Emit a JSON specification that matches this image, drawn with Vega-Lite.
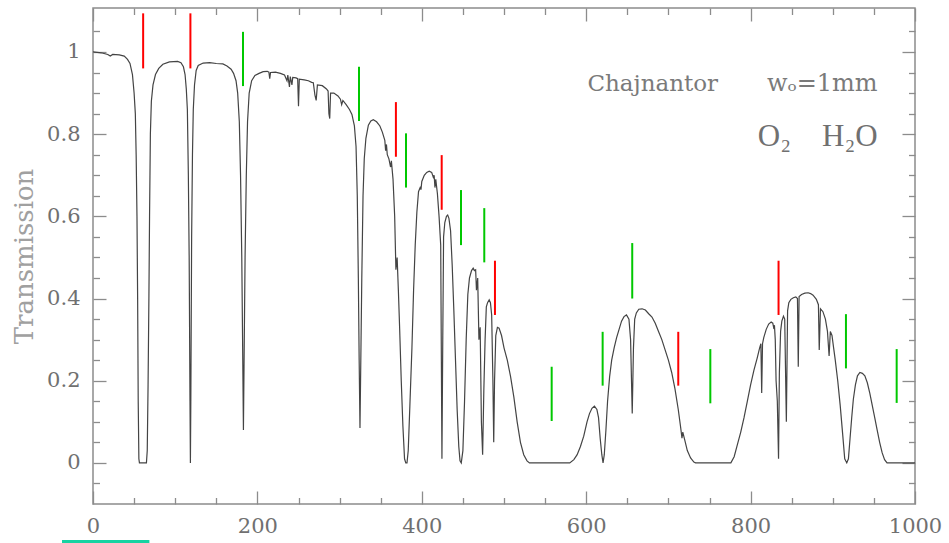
{
  "$schema": "https://vega.github.io/schema/vega-lite/v6.json",
  "width": 822,
  "height": 496,
  "autosize": "none",
  "padding": {"left": 93, "top": 8, "right": 34, "bottom": 39},
  "background": "white",
  "config": {
    "view": {"stroke": "#8c8c8c", "strokeWidth": 1.5},
    "axis": {
      "grid": false,
      "domain": false,
      "tickColor": "#8c8c8c",
      "tickWidth": 1.3,
      "labelFont": "DejaVu Serif",
      "labelColor": "#707070",
      "labelOverlap": false,
      "labelFlush": false
    }
  },
  "datasets": {
    "spectrum": [
      {"freq": 0, "transmission": 1.0}, {"freq": 10, "transmission": 0.998}, {"freq": 18, "transmission": 0.994},
      {"freq": 21, "transmission": 0.99}, {"freq": 24, "transmission": 0.994}, {"freq": 32, "transmission": 0.993},
      {"freq": 38, "transmission": 0.99}, {"freq": 42, "transmission": 0.982}, {"freq": 45, "transmission": 0.972},
      {"freq": 48, "transmission": 0.945}, {"freq": 50, "transmission": 0.9}, {"freq": 51.5, "transmission": 0.85},
      {"freq": 52.5, "transmission": 0.75}, {"freq": 53.5, "transmission": 0.6}, {"freq": 54.3, "transmission": 0.4},
      {"freq": 55, "transmission": 0.15}, {"freq": 55.8, "transmission": 0.01}, {"freq": 56.5, "transmission": 0},
      {"freq": 65, "transmission": 0}, {"freq": 66, "transmission": 0.03}, {"freq": 67, "transmission": 0.19},
      {"freq": 68, "transmission": 0.4}, {"freq": 68.8, "transmission": 0.6}, {"freq": 69.8, "transmission": 0.8},
      {"freq": 71, "transmission": 0.88}, {"freq": 73, "transmission": 0.92}, {"freq": 76, "transmission": 0.945},
      {"freq": 80, "transmission": 0.96}, {"freq": 85, "transmission": 0.97}, {"freq": 93, "transmission": 0.976},
      {"freq": 103, "transmission": 0.977}, {"freq": 107, "transmission": 0.974}, {"freq": 110, "transmission": 0.964},
      {"freq": 112, "transmission": 0.945}, {"freq": 113.5, "transmission": 0.91}, {"freq": 114.8, "transmission": 0.86},
      {"freq": 116, "transmission": 0.7}, {"freq": 117, "transmission": 0.5}, {"freq": 118, "transmission": 0.15},
      {"freq": 118.5, "transmission": 0.0}, {"freq": 119, "transmission": 0.15}, {"freq": 120, "transmission": 0.55},
      {"freq": 121, "transmission": 0.75}, {"freq": 122, "transmission": 0.86}, {"freq": 123.5, "transmission": 0.92},
      {"freq": 125.5, "transmission": 0.955}, {"freq": 128, "transmission": 0.967}, {"freq": 134, "transmission": 0.973},
      {"freq": 142, "transmission": 0.974}, {"freq": 150, "transmission": 0.972}, {"freq": 158, "transmission": 0.971},
      {"freq": 163, "transmission": 0.966}, {"freq": 168, "transmission": 0.958}, {"freq": 171, "transmission": 0.948},
      {"freq": 174, "transmission": 0.93}, {"freq": 176, "transmission": 0.9}, {"freq": 178, "transmission": 0.83},
      {"freq": 179.5, "transmission": 0.7}, {"freq": 181, "transmission": 0.5}, {"freq": 182.2, "transmission": 0.25},
      {"freq": 183, "transmission": 0.08}, {"freq": 183.8, "transmission": 0.25}, {"freq": 185, "transmission": 0.5},
      {"freq": 186.5, "transmission": 0.7}, {"freq": 188, "transmission": 0.83}, {"freq": 190, "transmission": 0.9},
      {"freq": 193, "transmission": 0.93}, {"freq": 197, "transmission": 0.943}, {"freq": 202, "transmission": 0.948},
      {"freq": 207, "transmission": 0.952}, {"freq": 212, "transmission": 0.953}, {"freq": 214, "transmission": 0.951},
      {"freq": 215, "transmission": 0.935}, {"freq": 216, "transmission": 0.95}, {"freq": 222, "transmission": 0.951},
      {"freq": 228, "transmission": 0.948}, {"freq": 233, "transmission": 0.944}, {"freq": 236, "transmission": 0.93},
      {"freq": 237, "transmission": 0.944}, {"freq": 239, "transmission": 0.915}, {"freq": 240, "transmission": 0.94},
      {"freq": 242, "transmission": 0.92}, {"freq": 243, "transmission": 0.938}, {"freq": 247, "transmission": 0.937},
      {"freq": 249, "transmission": 0.935}, {"freq": 250, "transmission": 0.868}, {"freq": 251, "transmission": 0.934},
      {"freq": 257, "transmission": 0.932}, {"freq": 262, "transmission": 0.93}, {"freq": 266, "transmission": 0.926},
      {"freq": 268, "transmission": 0.925}, {"freq": 270, "transmission": 0.895}, {"freq": 271.5, "transmission": 0.882},
      {"freq": 273, "transmission": 0.92}, {"freq": 279, "transmission": 0.918}, {"freq": 284, "transmission": 0.91},
      {"freq": 286, "transmission": 0.905}, {"freq": 287, "transmission": 0.85}, {"freq": 288, "transmission": 0.838},
      {"freq": 289, "transmission": 0.9}, {"freq": 293, "transmission": 0.9}, {"freq": 298, "transmission": 0.893},
      {"freq": 301, "transmission": 0.885}, {"freq": 302.5, "transmission": 0.872}, {"freq": 304, "transmission": 0.882},
      {"freq": 308, "transmission": 0.872}, {"freq": 312, "transmission": 0.86}, {"freq": 315, "transmission": 0.848},
      {"freq": 318, "transmission": 0.82}, {"freq": 320, "transmission": 0.77}, {"freq": 321.5, "transmission": 0.65},
      {"freq": 322.8, "transmission": 0.45}, {"freq": 323.8, "transmission": 0.25}, {"freq": 324.8, "transmission": 0.085},
      {"freq": 325.8, "transmission": 0.25}, {"freq": 327, "transmission": 0.45}, {"freq": 328.5, "transmission": 0.65},
      {"freq": 330, "transmission": 0.74}, {"freq": 332, "transmission": 0.79}, {"freq": 335, "transmission": 0.822},
      {"freq": 338, "transmission": 0.832}, {"freq": 341, "transmission": 0.835}, {"freq": 345, "transmission": 0.83},
      {"freq": 349, "transmission": 0.82}, {"freq": 352, "transmission": 0.805}, {"freq": 355, "transmission": 0.785},
      {"freq": 356, "transmission": 0.76}, {"freq": 357, "transmission": 0.775}, {"freq": 358, "transmission": 0.75},
      {"freq": 360, "transmission": 0.74}, {"freq": 362, "transmission": 0.72}, {"freq": 363, "transmission": 0.735},
      {"freq": 365, "transmission": 0.69}, {"freq": 367, "transmission": 0.6}, {"freq": 368.5, "transmission": 0.47},
      {"freq": 370, "transmission": 0.5}, {"freq": 371.5, "transmission": 0.42}, {"freq": 373, "transmission": 0.33},
      {"freq": 375, "transmission": 0.2}, {"freq": 377, "transmission": 0.09}, {"freq": 379, "transmission": 0.01},
      {"freq": 380.5, "transmission": 0.0}, {"freq": 382, "transmission": 0.0}, {"freq": 383.5, "transmission": 0.03},
      {"freq": 385.5, "transmission": 0.14}, {"freq": 388, "transmission": 0.28}, {"freq": 390, "transmission": 0.42},
      {"freq": 392, "transmission": 0.53}, {"freq": 394, "transmission": 0.61}, {"freq": 396, "transmission": 0.66},
      {"freq": 398, "transmission": 0.67}, {"freq": 399, "transmission": 0.665}, {"freq": 400, "transmission": 0.685},
      {"freq": 403, "transmission": 0.7}, {"freq": 406, "transmission": 0.707}, {"freq": 409, "transmission": 0.71},
      {"freq": 412, "transmission": 0.707}, {"freq": 414, "transmission": 0.695}, {"freq": 415, "transmission": 0.7},
      {"freq": 416, "transmission": 0.67}, {"freq": 417, "transmission": 0.69}, {"freq": 419, "transmission": 0.655},
      {"freq": 421, "transmission": 0.6}, {"freq": 423, "transmission": 0.53}, {"freq": 424.5, "transmission": 0.01},
      {"freq": 425.5, "transmission": 0.3}, {"freq": 426.5, "transmission": 0.55}, {"freq": 428, "transmission": 0.585},
      {"freq": 430, "transmission": 0.6}, {"freq": 431.5, "transmission": 0.603}, {"freq": 433, "transmission": 0.595},
      {"freq": 435, "transmission": 0.565}, {"freq": 437, "transmission": 0.48}, {"freq": 439, "transmission": 0.37},
      {"freq": 441, "transmission": 0.25}, {"freq": 443, "transmission": 0.13}, {"freq": 445, "transmission": 0.04},
      {"freq": 446.5, "transmission": 0.005}, {"freq": 448, "transmission": 0.0}, {"freq": 450, "transmission": 0.03},
      {"freq": 452, "transmission": 0.15}, {"freq": 454, "transmission": 0.3}, {"freq": 456, "transmission": 0.41},
      {"freq": 458, "transmission": 0.45}, {"freq": 460.5, "transmission": 0.468}, {"freq": 462.5, "transmission": 0.474},
      {"freq": 464, "transmission": 0.468}, {"freq": 465.5, "transmission": 0.47}, {"freq": 466.5, "transmission": 0.42},
      {"freq": 468, "transmission": 0.45}, {"freq": 469.5, "transmission": 0.3}, {"freq": 471, "transmission": 0.33},
      {"freq": 472.5, "transmission": 0.1}, {"freq": 474, "transmission": 0.02}, {"freq": 475.5, "transmission": 0.18},
      {"freq": 477, "transmission": 0.3}, {"freq": 478.5, "transmission": 0.38}, {"freq": 480, "transmission": 0.39},
      {"freq": 482, "transmission": 0.397}, {"freq": 483.5, "transmission": 0.39}, {"freq": 485, "transmission": 0.36},
      {"freq": 486.5, "transmission": 0.2}, {"freq": 487.5, "transmission": 0.05}, {"freq": 488.5, "transmission": 0.2},
      {"freq": 490, "transmission": 0.31}, {"freq": 492, "transmission": 0.33}, {"freq": 494, "transmission": 0.328},
      {"freq": 497, "transmission": 0.31}, {"freq": 500, "transmission": 0.28}, {"freq": 504, "transmission": 0.25},
      {"freq": 508, "transmission": 0.21}, {"freq": 512, "transmission": 0.16}, {"freq": 516, "transmission": 0.1},
      {"freq": 520, "transmission": 0.05}, {"freq": 524, "transmission": 0.02}, {"freq": 528, "transmission": 0.005},
      {"freq": 531, "transmission": 0}, {"freq": 580, "transmission": 0}, {"freq": 585, "transmission": 0.008},
      {"freq": 589, "transmission": 0.02}, {"freq": 593, "transmission": 0.04}, {"freq": 597, "transmission": 0.065},
      {"freq": 601, "transmission": 0.1}, {"freq": 604, "transmission": 0.12}, {"freq": 607, "transmission": 0.133},
      {"freq": 610, "transmission": 0.138}, {"freq": 613, "transmission": 0.13}, {"freq": 615, "transmission": 0.11},
      {"freq": 617, "transmission": 0.06}, {"freq": 619, "transmission": 0.02}, {"freq": 620.5, "transmission": 0.0},
      {"freq": 622, "transmission": 0.02}, {"freq": 624, "transmission": 0.08}, {"freq": 626, "transmission": 0.15},
      {"freq": 628.5, "transmission": 0.21}, {"freq": 631, "transmission": 0.25}, {"freq": 634, "transmission": 0.28},
      {"freq": 637, "transmission": 0.305}, {"freq": 640, "transmission": 0.325}, {"freq": 643, "transmission": 0.345},
      {"freq": 646, "transmission": 0.356}, {"freq": 649, "transmission": 0.36}, {"freq": 652, "transmission": 0.35},
      {"freq": 654, "transmission": 0.3}, {"freq": 656, "transmission": 0.12}, {"freq": 657.5, "transmission": 0.28},
      {"freq": 659, "transmission": 0.35}, {"freq": 661, "transmission": 0.365}, {"freq": 664, "transmission": 0.374},
      {"freq": 668, "transmission": 0.375}, {"freq": 672, "transmission": 0.372}, {"freq": 676, "transmission": 0.363},
      {"freq": 680, "transmission": 0.355}, {"freq": 684, "transmission": 0.34}, {"freq": 688, "transmission": 0.32},
      {"freq": 692, "transmission": 0.3}, {"freq": 696, "transmission": 0.275}, {"freq": 700, "transmission": 0.25},
      {"freq": 704, "transmission": 0.22}, {"freq": 708, "transmission": 0.18}, {"freq": 712, "transmission": 0.13},
      {"freq": 715, "transmission": 0.085}, {"freq": 716.5, "transmission": 0.06}, {"freq": 717.5, "transmission": 0.075},
      {"freq": 720, "transmission": 0.055}, {"freq": 723, "transmission": 0.03}, {"freq": 727, "transmission": 0.012},
      {"freq": 731, "transmission": 0.002}, {"freq": 733, "transmission": 0}, {"freq": 776, "transmission": 0},
      {"freq": 780, "transmission": 0.015}, {"freq": 784, "transmission": 0.045}, {"freq": 788, "transmission": 0.075},
      {"freq": 792, "transmission": 0.11}, {"freq": 796, "transmission": 0.15}, {"freq": 800, "transmission": 0.19},
      {"freq": 804, "transmission": 0.225}, {"freq": 808, "transmission": 0.255}, {"freq": 811, "transmission": 0.28},
      {"freq": 812.5, "transmission": 0.29}, {"freq": 813.5, "transmission": 0.17}, {"freq": 814.5, "transmission": 0.29},
      {"freq": 816, "transmission": 0.305}, {"freq": 819, "transmission": 0.325}, {"freq": 822, "transmission": 0.338},
      {"freq": 825, "transmission": 0.343}, {"freq": 827, "transmission": 0.34}, {"freq": 828, "transmission": 0.33},
      {"freq": 829, "transmission": 0.335}, {"freq": 830, "transmission": 0.3}, {"freq": 831, "transmission": 0.2},
      {"freq": 832.5, "transmission": 0.15}, {"freq": 834, "transmission": 0.01}, {"freq": 835, "transmission": 0.22},
      {"freq": 836.5, "transmission": 0.32}, {"freq": 838, "transmission": 0.345}, {"freq": 840, "transmission": 0.357},
      {"freq": 841.5, "transmission": 0.35}, {"freq": 843.5, "transmission": 0.1}, {"freq": 845, "transmission": 0.37},
      {"freq": 846.5, "transmission": 0.39}, {"freq": 849, "transmission": 0.398}, {"freq": 852, "transmission": 0.402},
      {"freq": 855, "transmission": 0.404}, {"freq": 857, "transmission": 0.4}, {"freq": 858, "transmission": 0.234},
      {"freq": 859, "transmission": 0.405}, {"freq": 862, "transmission": 0.41}, {"freq": 866, "transmission": 0.413},
      {"freq": 870, "transmission": 0.414}, {"freq": 873, "transmission": 0.412}, {"freq": 876, "transmission": 0.408},
      {"freq": 880, "transmission": 0.398}, {"freq": 882.5, "transmission": 0.385}, {"freq": 883.5, "transmission": 0.275},
      {"freq": 885, "transmission": 0.375}, {"freq": 888, "transmission": 0.368}, {"freq": 891, "transmission": 0.35},
      {"freq": 893.5, "transmission": 0.32}, {"freq": 895.5, "transmission": 0.26}, {"freq": 897, "transmission": 0.32},
      {"freq": 899, "transmission": 0.31}, {"freq": 901, "transmission": 0.28}, {"freq": 903, "transmission": 0.25},
      {"freq": 906, "transmission": 0.2}, {"freq": 909, "transmission": 0.14}, {"freq": 912, "transmission": 0.07},
      {"freq": 914.5, "transmission": 0.01}, {"freq": 917, "transmission": 0.0}, {"freq": 919, "transmission": 0.01},
      {"freq": 921, "transmission": 0.06}, {"freq": 923, "transmission": 0.11}, {"freq": 925, "transmission": 0.155},
      {"freq": 927.5, "transmission": 0.19}, {"freq": 930, "transmission": 0.212}, {"freq": 933, "transmission": 0.22},
      {"freq": 936, "transmission": 0.218}, {"freq": 939, "transmission": 0.212}, {"freq": 942, "transmission": 0.195},
      {"freq": 945, "transmission": 0.17}, {"freq": 948, "transmission": 0.14}, {"freq": 951, "transmission": 0.11},
      {"freq": 954, "transmission": 0.08}, {"freq": 957, "transmission": 0.05}, {"freq": 960, "transmission": 0.025},
      {"freq": 963, "transmission": 0.008}, {"freq": 966, "transmission": 0}, {"freq": 1000, "transmission": 0}
    ],
    "lines": [
      {"molecule": "O2", "freq": 61, "top": 1.094, "bottom": 0.96},
      {"molecule": "O2", "freq": 118.5, "top": 1.094, "bottom": 0.96},
      {"molecule": "O2", "freq": 368.5, "top": 0.878, "bottom": 0.745},
      {"molecule": "O2", "freq": 424.2, "top": 0.749, "bottom": 0.616},
      {"molecule": "O2", "freq": 489, "top": 0.492, "bottom": 0.36},
      {"molecule": "O2", "freq": 712, "top": 0.319, "bottom": 0.188},
      {"molecule": "O2", "freq": 834, "top": 0.492, "bottom": 0.36},
      {"molecule": "H2O", "freq": 182.5, "top": 1.049, "bottom": 0.917},
      {"molecule": "H2O", "freq": 323.6, "top": 0.964, "bottom": 0.832},
      {"molecule": "H2O", "freq": 380.8, "top": 0.802, "bottom": 0.67},
      {"molecule": "H2O", "freq": 447.7, "top": 0.664, "bottom": 0.53},
      {"molecule": "H2O", "freq": 476, "top": 0.62, "bottom": 0.488},
      {"molecule": "H2O", "freq": 558, "top": 0.234, "bottom": 0.102},
      {"molecule": "H2O", "freq": 620, "top": 0.319, "bottom": 0.188},
      {"molecule": "H2O", "freq": 656, "top": 0.535, "bottom": 0.4},
      {"molecule": "H2O", "freq": 751, "top": 0.277, "bottom": 0.145},
      {"molecule": "H2O", "freq": 916, "top": 0.362, "bottom": 0.23},
      {"molecule": "H2O", "freq": 977.7, "top": 0.277, "bottom": 0.146}
    ],
    "site": [{"label": "Chajnantor", "freq": 601.5, "transmission": 0.906}],
    "water": [{"label": "wₒ=1mm", "freq": 954.5, "transmission": 0.906}],
    "species": [{"label": "O₂\u00a0\u00a0\u00a0\u00a0H₂O", "freq": 954.5, "transmission": 0.77}],
    "underline": [{"from": -37.7, "to": 68.6, "level": -0.191}]
  },
  "layer": [
    {
      "data": {"name": "spectrum"},
      "mark": {"type": "line", "color": "#444444", "strokeWidth": 1.2, "clip": true},
      "encoding": {
        "x": {
          "field": "freq", "type": "quantitative",
          "scale": {"domain": [0, 1000], "nice": false, "zero": false},
          "axis": {
            "orient": "bottom", "title": null, "format": "d",
            "values": [0, 50, 100, 150, 200, 250, 300, 350, 400, 450, 500, 550, 600, 650, 700, 750, 800, 850, 900, 950, 1000],
            "tickSize": {"condition": {"test": "datum.value % 200 === 0", "value": -13}, "value": -6.5},
            "labelExpr": "datum.value % 200 === 0 ? datum.label : ''",
            "labelFontSize": 21, "labelPadding": 24
          }
        },
        "y": {
          "field": "transmission", "type": "quantitative",
          "scale": {"domain": [-0.1, 1.107], "nice": false, "zero": false},
          "axis": {
            "orient": "left", "title": "Transmission", "format": "~g",
            "values": [-0.05, 0, 0.05, 0.1, 0.15, 0.2, 0.25, 0.3, 0.35, 0.4, 0.45, 0.5, 0.55, 0.6, 0.65, 0.7, 0.75, 0.8, 0.85, 0.9, 0.95, 1, 1.05],
            "tickSize": {"condition": {"test": "abs(datum.value * 5 - round(datum.value * 5)) < 0.001", "value": -13}, "value": -6.5},
            "labelExpr": "abs(datum.value * 5 - round(datum.value * 5)) < 0.001 ? datum.label : ''",
            "labelFontSize": 21, "labelPadding": 26,
            "titleFont": "DejaVu Serif", "titleFontWeight": "normal", "titleFontSize": 26, "titleColor": "#a0a0a0", "titlePadding": 9
          }
        }
      }
    },
    {
      "data": {"name": "lines"},
      "mark": {"type": "rule", "strokeWidth": 2},
      "encoding": {
        "x": {
          "field": "freq", "type": "quantitative",
          "scale": {"domain": [0, 1000], "nice": false, "zero": false},
          "axis": {
            "orient": "top", "title": null, "labels": false,
            "values": [0, 50, 100, 150, 200, 250, 300, 350, 400, 450, 500, 550, 600, 650, 700, 750, 800, 850, 900, 950, 1000],
            "tickSize": {"condition": {"test": "datum.value % 200 === 0", "value": -13}, "value": -6.5}
          }
        },
        "y": {
          "field": "top", "type": "quantitative",
          "scale": {"domain": [-0.1, 1.107], "nice": false, "zero": false},
          "axis": {
            "orient": "right", "title": null, "labels": false,
            "values": [-0.05, 0, 0.05, 0.1, 0.15, 0.2, 0.25, 0.3, 0.35, 0.4, 0.45, 0.5, 0.55, 0.6, 0.65, 0.7, 0.75, 0.8, 0.85, 0.9, 0.95, 1, 1.05],
            "tickSize": {"condition": {"test": "abs(datum.value * 5 - round(datum.value * 5)) < 0.001", "value": -13}, "value": -6.5}
          }
        },
        "y2": {"field": "bottom"},
        "color": {
          "field": "molecule", "type": "nominal",
          "scale": {"domain": ["O2", "H2O"], "range": ["#ff0000", "#00c800"]},
          "legend": null
        }
      }
    },
    {
      "data": {"name": "site"},
      "mark": {"type": "text", "align": "left", "baseline": "alphabetic", "font": "DejaVu Serif", "fontSize": 23, "color": "#7a7a7a"},
      "encoding": {
        "x": {"field": "freq", "type": "quantitative", "scale": {"domain": [0, 1000]}, "axis": null},
        "y": {"field": "transmission", "type": "quantitative", "scale": {"domain": [-0.1, 1.107]}, "axis": null},
        "text": {"field": "label"}
      }
    },
    {
      "data": {"name": "water"},
      "mark": {"type": "text", "align": "right", "baseline": "alphabetic", "font": "DejaVu Serif", "fontSize": 24, "color": "#7a7a7a"},
      "encoding": {
        "x": {"field": "freq", "type": "quantitative", "scale": {"domain": [0, 1000]}, "axis": null},
        "y": {"field": "transmission", "type": "quantitative", "scale": {"domain": [-0.1, 1.107]}, "axis": null},
        "text": {"field": "label"}
      }
    },
    {
      "data": {"name": "species"},
      "mark": {"type": "text", "align": "right", "baseline": "alphabetic", "font": "Liberation Serif", "fontSize": 31, "color": "#707070"},
      "encoding": {
        "x": {"field": "freq", "type": "quantitative", "scale": {"domain": [0, 1000]}, "axis": null},
        "y": {"field": "transmission", "type": "quantitative", "scale": {"domain": [-0.1, 1.107]}, "axis": null},
        "text": {"field": "label"}
      }
    },
    {
      "data": {"name": "underline"},
      "mark": {"type": "rule", "color": "#17d3a2", "strokeWidth": 3, "clip": false},
      "encoding": {
        "x": {"field": "from", "type": "quantitative", "scale": {"domain": [0, 1000]}, "axis": null},
        "x2": {"field": "to"},
        "y": {"field": "level", "type": "quantitative", "scale": {"domain": [-0.1, 1.107]}, "axis": null}
      }
    }
  ],
  "resolve": {"axis": {"x": "independent", "y": "independent"}}
}
